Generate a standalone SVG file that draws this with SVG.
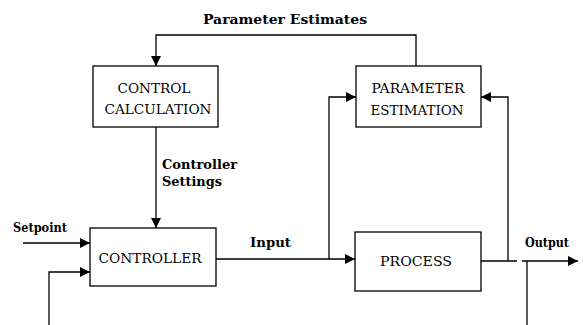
<svg xmlns="http://www.w3.org/2000/svg" width="583" height="325" viewBox="0 0 583 325">
<style>
.box{fill:#fff;stroke:#000;stroke-width:1.3}
.ln{fill:none;stroke:#000;stroke-width:1.3}
.bl{font-family:"DejaVu Serif","Liberation Serif",serif;font-size:13.5px;fill:#000;text-anchor:middle}
.lb{font-family:"DejaVu Serif","Liberation Serif",serif;font-weight:bold;font-size:12.5px;fill:#000}
</style>
<defs>
<marker id="ah" viewBox="0 0 10 10" refX="10" refY="5" markerWidth="10" markerHeight="10" markerUnits="userSpaceOnUse" orient="auto">
<path d="M0,0 L10,5 L0,10 Z" fill="#000"/>
</marker>
</defs>
<rect width="583" height="325" fill="#fff"/>
<g id="connectors">
<polyline class="ln" points="416,66 416,35 156,35 156,66" marker-end="url(#ah)"/>
<line class="ln" x1="156" y1="127" x2="156" y2="228" marker-end="url(#ah)"/>
<line class="ln" x1="23" y1="243" x2="90" y2="243" marker-end="url(#ah)"/>
<polyline class="ln" points="49,325 49,272 90,272" marker-end="url(#ah)"/>
<line class="ln" x1="216" y1="259" x2="355" y2="259" marker-end="url(#ah)"/>
<polyline class="ln" points="329,259 329,97 356,97" marker-end="url(#ah)"/>
<polyline class="ln" points="508,261 508,97 481,97" marker-end="url(#ah)"/>
<line class="ln" x1="481" y1="261" x2="517" y2="261"/>
<line class="ln" x1="522" y1="261" x2="578" y2="261" marker-end="url(#ah)"/>
<line class="ln" x1="527" y1="261" x2="527" y2="325"/>
<text class="lb" x="203" y="24" textLength="164" lengthAdjust="spacingAndGlyphs">Parameter Estimates</text>
<text class="lb" x="162" y="169" textLength="75" lengthAdjust="spacingAndGlyphs">Controller</text>
<text class="lb" x="162" y="186" textLength="60" lengthAdjust="spacingAndGlyphs">Settings</text>
<text class="lb" x="13" y="232" textLength="54" lengthAdjust="spacingAndGlyphs">Setpoint</text>
<text class="lb" x="250" y="247" textLength="41" lengthAdjust="spacingAndGlyphs">Input</text>
<text class="lb" x="525" y="247" textLength="44" lengthAdjust="spacingAndGlyphs">Output</text>
</g>
<g id="control-calculation">
<rect class="box" x="93" y="66" width="125" height="61"/>
<text class="bl" x="154" y="93" textLength="73" lengthAdjust="spacingAndGlyphs">CONTROL</text>
<text class="bl" x="158" y="114" textLength="107" lengthAdjust="spacingAndGlyphs">CALCULATION</text>
</g>
<g id="parameter-estimation">
<rect class="box" x="356" y="66" width="125" height="61"/>
<text class="bl" x="418" y="93" textLength="93" lengthAdjust="spacingAndGlyphs">PARAMETER</text>
<text class="bl" x="417" y="115" textLength="93" lengthAdjust="spacingAndGlyphs">ESTIMATION</text>
</g>
<g id="controller">
<rect class="box" x="90" y="228" width="126" height="58"/>
<text class="bl" x="150" y="263" textLength="103" lengthAdjust="spacingAndGlyphs">CONTROLLER</text>
</g>
<g id="process">
<rect class="box" x="355" y="232" width="126" height="59"/>
<text class="bl" x="416" y="266" textLength="72" lengthAdjust="spacingAndGlyphs">PROCESS</text>
</g>
</svg>
